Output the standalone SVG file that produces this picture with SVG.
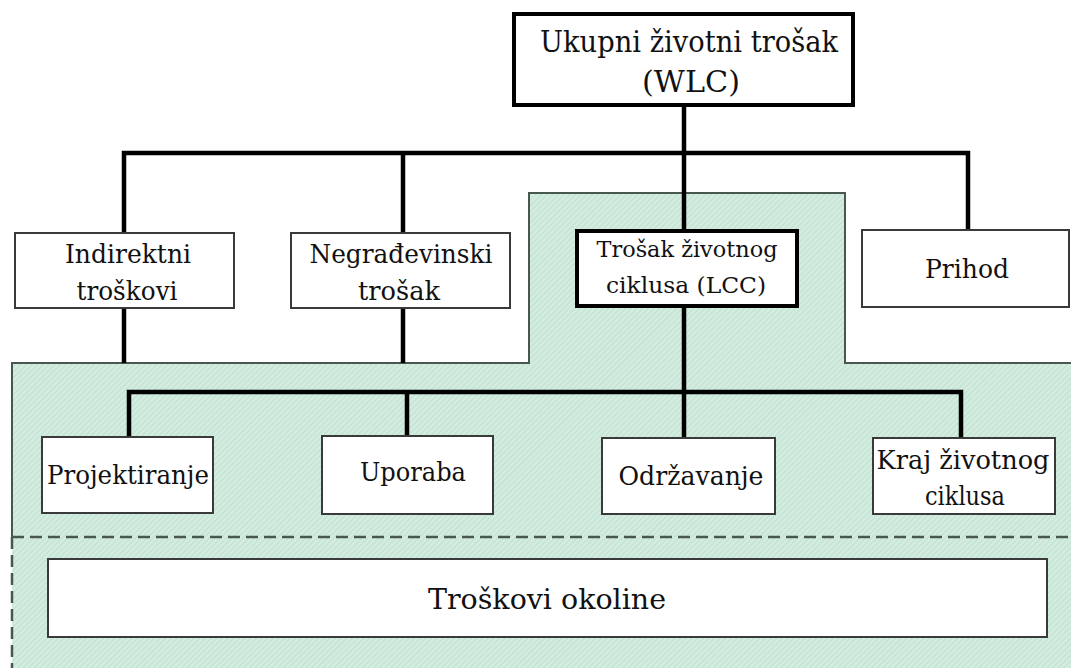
<svg xmlns="http://www.w3.org/2000/svg" width="1071" height="668" viewBox="0 0 1071 668">
<style>
.box{fill:#fff;stroke:#3a3a3a;stroke-width:2}
.tbox{fill:#fff;stroke:#000;stroke-width:4}
.con{fill:none;stroke:#000;stroke-width:4.5;stroke-linejoin:miter;stroke-linecap:butt}
.dash{fill:none;stroke:#48584f;stroke-width:2.5;stroke-dasharray:12 6}
</style>
<defs>
<pattern id="hatch" patternUnits="userSpaceOnUse" width="4" height="4" patternTransform="rotate(45)">
<rect width="4" height="4" fill="#d3ece0"/>
<line x1="0" y1="0" x2="0" y2="4" stroke="#b8dbc8" stroke-width="1.4"/>
</pattern>
</defs>
<rect width="1071" height="668" fill="#fff"/>
<g id="zone">
<path d="M1075,363 L845,363 L845,193 L529,193 L529,363 L12,363 L12,670 L1075,670 Z" fill="url(#hatch)"/>
<path d="M1075,363 L845,363 L845,193 L529,193 L529,363 L12,363 L12,537" fill="none" stroke="#48584f" stroke-width="2"/>
<path class="dash" d="M12,537 L12,668"/>
<path class="dash" d="M12,537 L1071,537"/>
</g>
<g id="connectors">
<path class="con" d="M124,232 L124,153 L968,153 L968,230"/>
<path class="con" d="M403,153 L403,232"/>
<path class="con" d="M684,106 L684,230"/>
<path class="con" d="M124,308 L124,363"/>
<path class="con" d="M403,308 L403,363"/>
<path class="con" d="M684,307 L684,437"/>
<path class="con" d="M129,437 L129,392 L961,392 L961,438"/>
<path class="con" d="M407,392 L407,436"/>
</g>
<g id="nodes" font-family="DejaVu Serif, Liberation Serif, serif" fill="#111" text-anchor="middle">
<g id="wlc">
<rect class="tbox" x="514" y="14" width="339" height="91"/>
<text x="689" y="52" font-size="30" textLength="298" lengthAdjust="spacingAndGlyphs">Ukupni životni trošak</text>
<text x="691" y="92" font-size="30" textLength="98" lengthAdjust="spacingAndGlyphs">(WLC)</text>
</g>
<g id="indirektni">
<rect class="box" x="15" y="233" width="219" height="75"/>
<text x="128" y="263" font-size="26" textLength="126" lengthAdjust="spacingAndGlyphs">Indirektni</text>
<text x="127" y="300" font-size="26" textLength="101" lengthAdjust="spacingAndGlyphs">troškovi</text>
</g>
<g id="negradjevinski">
<rect class="box" x="291" y="233" width="219" height="75"/>
<text x="401" y="263" font-size="26" textLength="183" lengthAdjust="spacingAndGlyphs">Negrađevinski</text>
<text x="399" y="300" font-size="26" textLength="82" lengthAdjust="spacingAndGlyphs">trošak</text>
</g>
<g id="lcc">
<rect class="tbox" x="577" y="231" width="220" height="75"/>
<text x="687" y="257" font-size="23" textLength="181" lengthAdjust="spacingAndGlyphs">Trošak životnog</text>
<text x="686" y="293" font-size="23" textLength="160" lengthAdjust="spacingAndGlyphs">ciklusa (LCC)</text>
</g>
<g id="prihod">
<rect class="box" x="862" y="230" width="207" height="77"/>
<text x="967" y="278" font-size="26" textLength="84" lengthAdjust="spacingAndGlyphs">Prihod</text>
</g>
<g id="projektiranje">
<rect class="box" x="42" y="437" width="171" height="76"/>
<text x="128" y="484" font-size="26" textLength="162" lengthAdjust="spacingAndGlyphs">Projektiranje</text>
</g>
<g id="uporaba">
<rect class="box" x="322" y="436" width="171" height="78"/>
<text x="413" y="481" font-size="26" textLength="106" lengthAdjust="spacingAndGlyphs">Uporaba</text>
</g>
<g id="odrzavanje">
<rect class="box" x="602" y="438" width="173" height="76"/>
<text x="691" y="485" font-size="26" textLength="145" lengthAdjust="spacingAndGlyphs">Održavanje</text>
</g>
<g id="kraj">
<rect class="box" x="873" y="438" width="182" height="76"/>
<text x="963" y="469" font-size="26" textLength="173" lengthAdjust="spacingAndGlyphs">Kraj životnog</text>
<text x="965" y="505" font-size="26" textLength="80" lengthAdjust="spacingAndGlyphs">ciklusa</text>
</g>
<g id="okoline">
<rect class="box" x="48" y="559" width="999" height="78"/>
<text x="547" y="609" font-size="28" textLength="238" lengthAdjust="spacingAndGlyphs">Troškovi okoline</text>
</g>
</g>
</svg>
